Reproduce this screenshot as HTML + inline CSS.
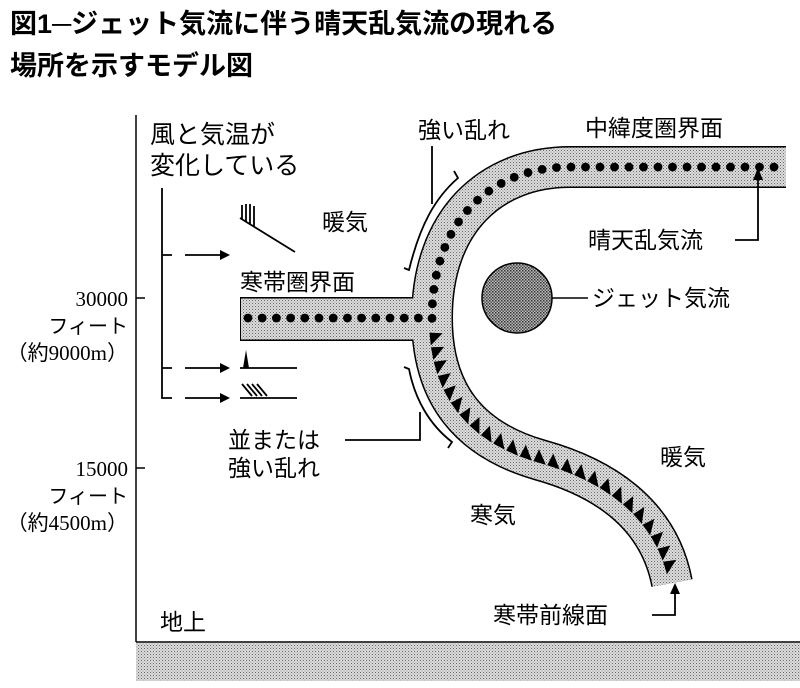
<!DOCTYPE html>
<html><head><meta charset="utf-8"><style>
html,body{margin:0;padding:0;background:#fff}
svg{display:block}
text{font-family:"Liberation Serif","Noto Sans CJK JP",sans-serif;fill:#000}
.j{font-family:"Liberation Sans","Noto Sans CJK JP",sans-serif;font-size:23px}
</style></head><body>
<svg id="s" width="800" height="688" viewBox="0 0 800 688" xmlns="http://www.w3.org/2000/svg">
<defs>
<pattern id="st" width="3" height="3" patternUnits="userSpaceOnUse"><rect width="3" height="3" fill="#ddd"/><rect width="1" height="1" fill="#666"/><rect x="1.5" y="1.5" width="1" height="1" fill="#888"/></pattern>
<pattern id="st2" width="3" height="3" patternUnits="userSpaceOnUse"><rect width="3" height="3" fill="#bbb"/><rect width="1.5" height="1.5" fill="#333"/><rect x="1.5" y="1.5" width="1.5" height="1.5" fill="#555"/></pattern>
</defs>
<text x="10" y="33" style="font-family:'Liberation Sans','Noto Sans CJK JP',sans-serif;font-size:27px;font-weight:bold">図1─ジェット気流に伴う晴天乱気流の現れる</text>
<text x="10" y="75" style="font-family:'Liberation Sans','Noto Sans CJK JP',sans-serif;font-size:27px;font-weight:bold">場所を示すモデル図</text>

<line x1="136" y1="115" x2="136" y2="642" stroke="#000" stroke-width="1.5"/>
<line x1="136" y1="298" x2="145" y2="298" stroke="#000" stroke-width="1.5"/>
<line x1="136" y1="468" x2="145" y2="468" stroke="#000" stroke-width="1.5"/>
<line x1="136" y1="642" x2="800" y2="642" stroke="#000" stroke-width="1.5"/>
<rect x="136" y="643" width="664" height="38" fill="url(#st)"/>
<g text-anchor="end">
<text x="128" y="306" style="font-size:21px">30000</text><text x="128" y="333" class="j" style="font-size:20px">フィート</text><text x="128" y="360" style="font-size:21px">（約9000m）</text>
<text x="128" y="476" style="font-size:21px">15000</text><text x="128" y="503" class="j" style="font-size:20px">フィート</text><text x="128" y="530" style="font-size:21px">（約4500m）</text>
</g>
<text x="160" y="630" class="j">地上</text>

<path id="bp" d="M786 167 L570 167 C490 167 432 222 432 318 C432 395 470 440 540 460 C612 480 660 520 672 583" fill="none" stroke="#000" stroke-width="42"/>
<rect x="240" y="297" width="200" height="44" fill="#000"/>
<path d="M786 167 L570 167 C490 167 432 222 432 318 C432 395 470 440 540 460 C612 480 660 520 672 583" fill="none" stroke="url(#st)" stroke-width="39"/>
<rect x="241" y="298.5" width="200" height="41" fill="url(#st)"/>
<g id="marks"></g>

<circle cx="517" cy="298" r="35" fill="url(#st2)" stroke="#000" stroke-width="1.5"/>
<line x1="552" y1="298" x2="588" y2="298" stroke="#000" stroke-width="1.5"/>
<text x="592" y="306" class="j">ジェット気流</text>

<text x="150" y="143" class="j" style="font-size:25px">風と気温が</text>
<text x="150" y="174" class="j" style="font-size:25px">変化している</text>
<text x="322" y="230" class="j">暖気</text>
<text x="240" y="290" class="j">寒帯圏界面</text>
<text x="418" y="138" class="j">強い乱れ</text>
<text x="585" y="136" class="j">中緯度圏界面</text>
<text x="588" y="248" class="j">晴天乱気流</text>
<text x="228" y="448" class="j">並または</text>
<text x="228" y="476" class="j">強い乱れ</text>
<text x="660" y="465" class="j">暖気</text>
<text x="470" y="523" class="j">寒気</text>
<text x="493" y="623" class="j">寒帯前線面</text>

<g fill="none" stroke="#000" stroke-width="1.8">
<path d="M162 188 V398 H172 M162 255 H172 M162 368 H172"/>
<line x1="185" y1="255" x2="220" y2="255"/><line x1="185" y1="368" x2="220" y2="368"/><line x1="185" y1="398" x2="220" y2="398"/>
<path d="M240 218 L295 252 M242 219 V205 M246 222 V204 M250 224 V204 M254 226 V206"/>
<path d="M240 368 H297 M240 398 H297 M242 384 L252 396 M247 384 L257 396 M252 384 L262 396 M257 384 L267 396"/>
<path d="M404 268 L409 270 C420 225 435 198 458 178 L454 171"/>
<path d="M432 146 V204"/>
<path d="M404 367 L409 369 C415 400 430 425 452 442 L448 448"/>
<path d="M345 440 H420 V412"/>
<path d="M735 240 H758 V178"/>
<path d="M652 615 H675 V592"/>
</g>
<polygon points="220,250 230,255 220,260"/><polygon points="220,363 230,368 220,373"/><polygon points="220,393 230,398 220,403"/>
<polygon points="243,368 246,350 249,368"/>
<polygon points="753,180 758,168 763,180"/>
<polygon points="670,594 675,583 680,594"/>
</svg>
<script>
(function(){
var ns="http://www.w3.org/2000/svg",g=document.getElementById("marks"),p=document.getElementById("bp");
var L=p.getTotalLength();
var split=0,best=1e9;
for(var l=0;l<L;l+=1){var q=p.getPointAtLength(l);var d=Math.hypot(q.x-432,q.y-322);if(d<best){best=d;split=l;}}
for(var l=12;l<split;l+=14.5){var q=p.getPointAtLength(l);var c=document.createElementNS(ns,"circle");c.setAttribute("cx",q.x);c.setAttribute("cy",q.y);c.setAttribute("r",4.4);g.appendChild(c);}
for(var x=248;x<425;x+=14.2){var c=document.createElementNS(ns,"circle");c.setAttribute("cx",x);c.setAttribute("cy",318);c.setAttribute("r",4.4);g.appendChild(c);}
for(var l=split+10;l<L-10;l+=14.5){var a=p.getPointAtLength(l),b=p.getPointAtLength(l+13);
var dx=b.x-a.x,dy=b.y-a.y,n=Math.hypot(dx,dy);dx/=n;dy/=n;var nx=-dy,ny=dx;
var o=3;
var t=document.createElementNS(ns,"polygon");
t.setAttribute("points",(a.x+nx*o)+","+(a.y+ny*o)+" "+(b.x+nx*o)+","+(b.y+ny*o)+" "+(a.x+nx*(o-13)+dx*2)+","+(a.y+ny*(o-13)+dy*2));
g.appendChild(t);}
})();
</script>
</body></html>
